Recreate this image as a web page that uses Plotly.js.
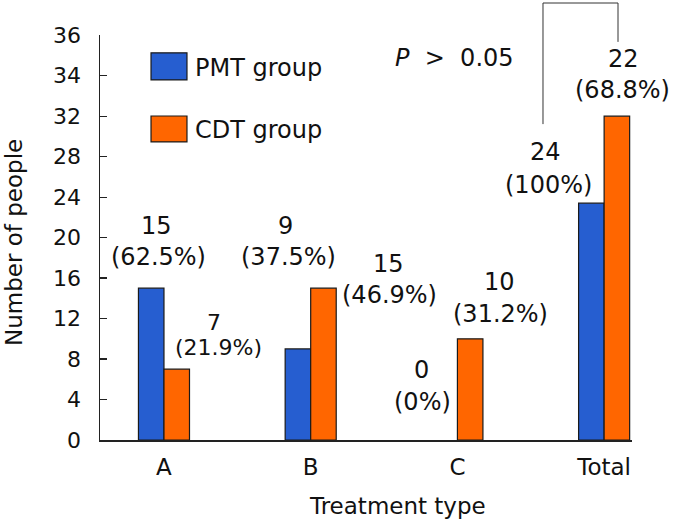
<!DOCTYPE html>
<html><head><meta charset="utf-8">
<script src="https://cdn.plot.ly/plotly-3.0.1.min.js"></script>
<style>html,body{margin:0;padding:0;background:#fff}#chart{width:689px;height:523px}</style>
</head><body><div id="chart"></div>
<script>
// ---- data ----
const categories = ['A', 'B', 'C', 'Total'];
const seriesNames = ['PMT group', 'CDT group'];
const pmtValues = [15, 9, 0, 23.4];
const cdtValues = [7, 15, 10, 32];
const yTickValues = [0, 4, 8, 12, 16, 20, 24, 28, 32, 36, 40];
const yTickLabels = ['0', '4', '8', '12', '16', '20', '24', '28', '32', '34', '36'];
const pmtCountLabels = ['15', '9', '0', '24'];
const pmtPercentLabels = ['(62.5%)', '(37.5%)', '(0%)', '(100%)'];
const cdtCountLabels = ['7', '15', '10', '22'];
const cdtPercentLabels = ['(21.9%)', '(46.9%)', '(31.2%)', '(68.8%)'];
const pValueText = '<i>P</i>\u00a0\u00a0>\u00a0\u00a00.05';

// ---- layout helpers (positions of text labels, in axis units) ----
// [xCount, yCount, xPercent, yPercent]
const pmtLabelPos = [[-0.050, 21.14, -0.037, 18.07], [0.830, 21.14, 0.849, 18.07], [1.757, 6.91, 1.759, 3.75], [2.597, 28.44, 2.618, 25.23]];
const cdtLabelPos = [[0.341, 11.65, 0.375, 9.19], [1.527, 17.38, 1.534, 14.32], [2.290, 15.65, 2.294, 12.44], [3.129, 37.68, 3.122, 34.57]];
const cdtLabelSize = [22, 24, 24, 24];

const FONT = 'DejaVu Sans, Verdana, sans-serif';
const BLUE = '#265ed0';
const ORANGE = '#ff6600';
const EDGE = '#1a1a1a';

// hide the outline of empty (zero) bars
const edgeWidths = v => v.map(val => (val === 0 ? 0 : 1.2));

const traces = [
  {type: 'bar', name: seriesNames[0], x: categories, y: pmtValues,
   marker: {color: BLUE, line: {color: EDGE, width: edgeWidths(pmtValues)}}, hoverinfo: 'x+y'},
  {type: 'bar', name: seriesNames[1], x: categories, y: cdtValues,
   marker: {color: ORANGE, line: {color: EDGE, width: edgeWidths(cdtValues)}}, hoverinfo: 'x+y'}
];

const annotations = [];
function addText(text, x, y, size, xref, yref, extra) {
  annotations.push(Object.assign({text: text, x: x, y: y, xref: xref || 'x', yref: yref || 'y',
    showarrow: false, xanchor: 'center', yanchor: 'middle',
    font: {family: FONT, size: size, color: '#111'}}, extra || {}));
}
for (let i = 0; i < categories.length; i++) {
  const p = pmtLabelPos[i];
  addText(pmtCountLabels[i], p[0], p[1], 24);
  addText(pmtPercentLabels[i], p[2], p[3], 24);
  const c = cdtLabelPos[i];
  addText(cdtCountLabels[i], c[0], c[1], cdtLabelSize[i]);
  addText(cdtPercentLabels[i], c[2], c[3], cdtLabelSize[i]);
}
addText(pValueText, 0.666, 0.943, 24, 'paper', 'paper');
// legend texts
addText(seriesNames[0], 0.175, 0.9185, 24, 'paper', 'paper', {xanchor: 'left'});
addText(seriesNames[1], 0.175, 0.765, 24, 'paper', 'paper', {xanchor: 'left'});
// axis titles
addText('Number of people', -0.1617, 0.489, 23, 'paper', 'paper', {textangle: -90});
addText('Treatment type', 0.560, -0.163, 23, 'paper', 'paper');

const shapes = [
  // legend swatches
  {type: 'rect', xref: 'paper', yref: 'paper', x0: 0.0959, x1: 0.1635, y0: 0.889, y1: 0.956,
   fillcolor: BLUE, line: {color: EDGE, width: 1.2}},
  {type: 'rect', xref: 'paper', yref: 'paper', x0: 0.0959, x1: 0.1635, y0: 0.736, y1: 0.800,
   fillcolor: ORANGE, line: {color: EDGE, width: 1.2}},
  // significance bracket
  {type: 'path', xref: 'paper', yref: 'paper',
   path: 'M 0.8327 0.780 L 0.8327 1.079 L 0.9737 1.079 L 0.9737 0.983',
   line: {color: '#333', width: 1}}
];

const layout = {
  width: 689, height: 523,
  margin: {l: 100, r: 57, t: 35, b: 83, pad: 0},
  paper_bgcolor: '#fff', plot_bgcolor: '#fff',
  showlegend: false,
  barmode: 'group', bargap: 0.652, bargroupgap: 0,
  font: {family: FONT, color: '#111'},
  xaxis: {type: 'category', range: [-0.436, 3.19], showline: true, linecolor: '#222', linewidth: 1.5,
    ticks: '', showgrid: false, zeroline: false, tickfont: {family: FONT, size: 23, color: '#111'},
    ticklabelstandoff: 6, fixedrange: true},
  yaxis: {range: [0, 40.02], tickmode: 'array', tickvals: yTickValues, ticktext: yTickLabels,
    showline: true, linecolor: '#222', linewidth: 1.5, ticks: 'inside', ticklen: 7, tickcolor: '#222',
    tickwidth: 1.2, showgrid: false, zeroline: false, tickfont: {family: FONT, size: 22, color: '#111'},
    ticklabelstandoff: 13, fixedrange: true},
  annotations: annotations,
  shapes: shapes
};

Plotly.newPlot('chart', traces, layout, {displayModeBar: false, staticPlot: true});
</script>
</body></html>
